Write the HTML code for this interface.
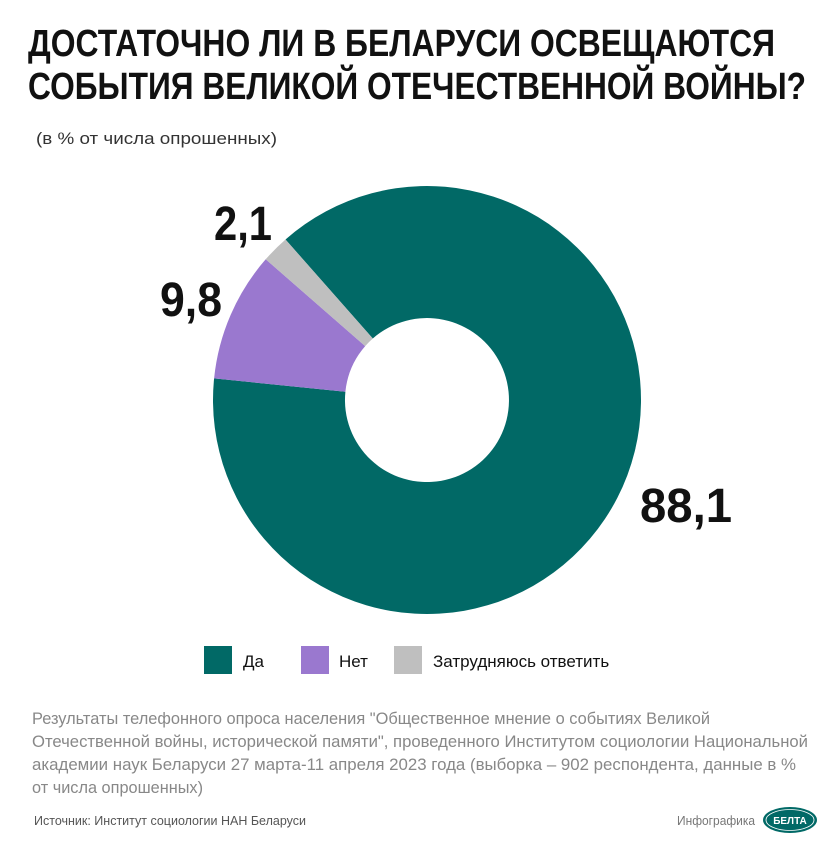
<!DOCTYPE html>
<html><head><meta charset="utf-8"><style>
body{margin:0;width:840px;height:860px;background:#fff;position:relative;font-family:"Liberation Sans",sans-serif;overflow:hidden}
</style></head><body>
<svg style="position:absolute;left:0;top:0" width="840" height="860">
<g font-family="Liberation Sans,sans-serif" font-weight="bold" font-size="38" fill="#111">
<text x="28" y="56" textLength="747" lengthAdjust="spacingAndGlyphs">ДОСТАТОЧНО ЛИ В БЕЛАРУСИ ОСВЕЩАЮТСЯ</text>
<text x="28" y="99" textLength="778" lengthAdjust="spacingAndGlyphs">СОБЫТИЯ ВЕЛИКОЙ ОТЕЧЕСТВЕННОЙ ВОЙНЫ?</text>
</g>
<text x="36" y="144" font-size="17" fill="#333" textLength="241" lengthAdjust="spacingAndGlyphs">(в % от числа опрошенных)</text>
<path d="M285.5 239.5 A214 214 0 1 1 214.1 378.4 L345.4 391.7 A82 82 0 1 0 372.8 338.5 Z" fill="#016966"/>
<path d="M214.1 378.4 A214 214 0 0 1 265.7 259.3 L365.2 346.1 A82 82 0 0 0 345.4 391.7 Z" fill="#9a78cf"/>
<path d="M265.7 259.3 A214 214 0 0 1 285.5 239.5 L372.8 338.5 A82 82 0 0 0 365.2 346.1 Z" fill="#bfbfbf"/>
<g font-family="Liberation Sans,sans-serif" font-weight="bold" font-size="48" fill="#111">
<text x="214" y="240" textLength="58" lengthAdjust="spacingAndGlyphs">2,1</text>
<text x="160" y="316" textLength="62" lengthAdjust="spacingAndGlyphs">9,8</text>
<text x="640" y="522" textLength="92" lengthAdjust="spacingAndGlyphs">88,1</text>
</g>
<rect x="204" y="646" width="28" height="28" fill="#016966"/>
<rect x="301" y="646" width="28" height="28" fill="#9a78cf"/>
<rect x="394" y="646" width="28" height="28" fill="#bfbfbf"/>
<g font-size="17" fill="#111"><text x="243" y="667">Да</text><text x="339" y="667">Нет</text><text x="433" y="667">Затрудняюсь ответить</text></g>
<g font-size="17" fill="#888">
<text x="32" y="724" textLength="678" lengthAdjust="spacingAndGlyphs">Результаты телефонного опроса населения "Общественное мнение о событиях Великой</text>
<text x="32" y="747" textLength="776" lengthAdjust="spacingAndGlyphs">Отечественной войны, исторической памяти", проведенного Институтом социологии Национальной</text>
<text x="32" y="770" textLength="764" lengthAdjust="spacingAndGlyphs">академии наук Беларуси 27 марта-11 апреля 2023 года (выборка –  902 респондента, данные в %</text>
<text x="32" y="793" textLength="171" lengthAdjust="spacingAndGlyphs">от числа опрошенных)</text>
</g>
<text x="34" y="825" font-size="13" fill="#555" textLength="272" lengthAdjust="spacingAndGlyphs">Источник: Институт социологии НАН Беларуси</text>
<text x="677" y="825" font-size="13" fill="#777" textLength="78" lengthAdjust="spacingAndGlyphs">Инфографика</text>
<ellipse cx="790" cy="820" rx="27" ry="13" fill="#016966"/>
<ellipse cx="790" cy="820" rx="24" ry="10.5" fill="none" stroke="#fff" stroke-width="0.8"/>
<text x="790" y="824" font-size="10" font-weight="bold" fill="#fff" text-anchor="middle">БЕЛТА</text>
</svg>
</body></html>
